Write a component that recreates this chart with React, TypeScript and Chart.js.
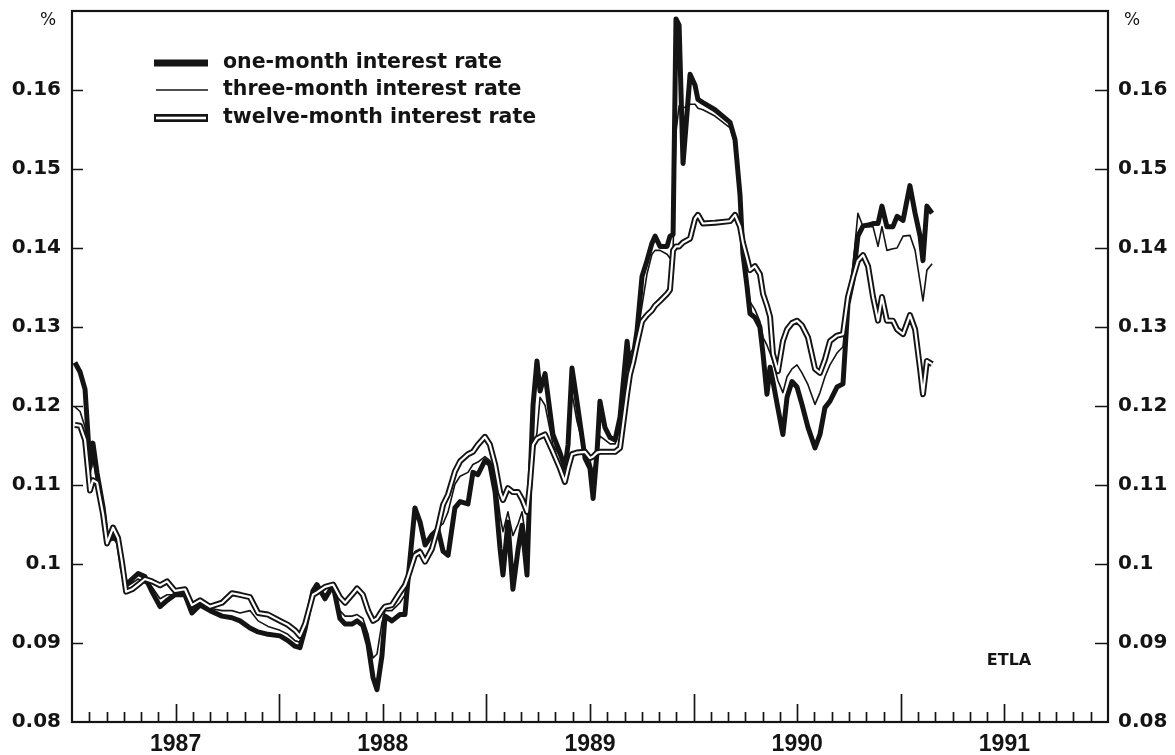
import React, { useEffect, useRef } from 'react';
import { Chart, registerables } from 'chart.js';

Chart.register(...registerables);

// ---- data (decimal years, interest rates as fractions) ----
const dates = [
  1986.514, 1986.539, 1986.563, 1986.587, 1986.601, 1986.621, 1986.650, 1986.669, 1986.698, 1986.722, 1986.741,
  1986.761, 1986.790, 1986.819, 1986.852, 1986.886, 1986.925, 1986.959, 1986.997, 1987.045, 1987.079, 1987.118,
  1987.166, 1987.224, 1987.272, 1987.311, 1987.359, 1987.398, 1987.446, 1987.504, 1987.542, 1987.576, 1987.600,
  1987.625, 1987.663, 1987.682, 1987.721, 1987.760, 1987.793, 1987.818, 1987.851, 1987.876, 1987.904, 1987.929,
  1987.953, 1987.972, 1987.996, 1988.011, 1988.044, 1988.083, 1988.107, 1988.122, 1988.155,
  1988.180, 1988.204, 1988.237, 1988.266, 1988.291, 1988.315, 1988.348, 1988.373, 1988.411, 1988.435, 1988.459,
  1988.493, 1988.517, 1988.542, 1988.566, 1988.580, 1988.604, 1988.628, 1988.653, 1988.672, 1988.696, 1988.710,
  1988.725, 1988.744, 1988.759, 1988.783, 1988.821, 1988.855, 1988.879, 1988.894, 1988.913, 1988.937, 1988.976,
  1989.000, 1989.015, 1989.034,
  1989.048, 1989.072, 1989.097, 1989.121, 1989.145, 1989.179, 1989.193, 1989.208, 1989.227, 1989.251, 1989.275,
  1989.299, 1989.314, 1989.338, 1989.372, 1989.386, 1989.401, 1989.415, 1989.430, 1989.449, 1989.483, 1989.507,
  1989.521, 1989.545, 1989.603, 1989.676, 1989.700, 1989.724, 1989.738, 1989.758, 1989.772, 1989.796, 1989.820,
  1989.835, 1989.854, 1989.869, 1989.883, 1989.907, 1989.931, 1989.951, 1989.975, 1989.999, 1990.023, 1990.052,
  1990.086, 1990.110, 1990.134, 1990.158, 1990.192, 1990.221, 1990.245, 1990.269, 1990.293, 1990.318, 1990.342,
  1990.366, 1990.390, 1990.409, 1990.433, 1990.462, 1990.482, 1990.511, 1990.544, 1990.569, 1990.593, 1990.607,
  1990.626, 1990.651,
];

const oneMonthRate = [
  0.1255, 0.1243, 0.1221, 0.1123, 0.1153, 0.1115, 0.1072, 0.1030, 0.1033, 0.1030, 0.0996,
  0.0973, 0.0981, 0.0988, 0.0984, 0.0965, 0.0946, 0.0954, 0.0961, 0.0961, 0.0938, 0.0948, 0.0941, 0.0934, 0.0932,
  0.0928, 0.0919, 0.0914, 0.0911, 0.0909, 0.0903, 0.0896, 0.0894, 0.0918, 0.0966, 0.0974, 0.0956, 0.0973, 0.0931,
  0.0924, 0.0924, 0.0928, 0.0922, 0.0898, 0.0856, 0.0841, 0.0884, 0.0934, 0.0928, 0.0936, 0.0936, 0.0981, 0.1071,
  0.1053, 0.1024, 0.1037, 0.1044, 0.1016, 0.1011, 0.1071, 0.1079, 0.1076, 0.1116, 0.1113, 0.1131, 0.1126, 0.1091,
  0.1019, 0.0986, 0.1053, 0.0968, 0.1019, 0.1049, 0.0986, 0.1101, 0.1201, 0.1257, 0.1219, 0.1241, 0.1164, 0.1141,
  0.1121, 0.1151, 0.1248, 0.1206, 0.1134, 0.1121, 0.1083, 0.1142,
  0.1206, 0.1173, 0.1160, 0.1157, 0.1186, 0.1282, 0.1244, 0.1262, 0.1295, 0.1364, 0.1384, 0.1406, 0.1415, 0.1402,
  0.1402, 0.1415, 0.1417, 0.1690, 0.1682, 0.1507, 0.1620, 0.1606, 0.1588, 0.1584, 0.1575, 0.1559, 0.1537, 0.1467,
  0.1393, 0.1351, 0.1317, 0.1312, 0.1300, 0.1266, 0.1215, 0.1249, 0.1231, 0.1197, 0.1164, 0.1211, 0.1231, 0.1224,
  0.1202, 0.1173, 0.1147, 0.1164, 0.1198, 0.1206, 0.1224, 0.1228, 0.1329, 0.1359, 0.1415, 0.1428, 0.1429, 0.1431,
  0.1431, 0.1453, 0.1427, 0.1427, 0.1440, 0.1435, 0.1479, 0.1444, 0.1415, 0.1384, 0.1453, 0.1444,
];

const threeMonthRate = [
  0.1199, 0.1193, 0.1173, 0.1113, 0.1133, 0.1103, 0.1068, 0.1031, 0.1035, 0.1023, 0.0998,
  0.0971, 0.0976, 0.0981, 0.0976, 0.0971, 0.0956, 0.0961, 0.0961, 0.0964, 0.0944, 0.0951, 0.0944, 0.0941, 0.0941,
  0.0938, 0.0941, 0.0928, 0.0921, 0.0916, 0.0911, 0.0903, 0.0901, 0.0921, 0.0961, 0.0968, 0.0961, 0.0971, 0.0941,
  0.0934, 0.0934, 0.0936, 0.0931, 0.0911, 0.0881, 0.0886, 0.0926, 0.0941, 0.0941, 0.0951, 0.0961, 0.0981, 0.1016,
  0.1019, 0.1006, 0.1026, 0.1046, 0.1051, 0.1066, 0.1101, 0.1111, 0.1116, 0.1126, 0.1129, 0.1136, 0.1131, 0.1111,
  0.1061, 0.1041, 0.1066, 0.1036, 0.1051, 0.1066, 0.1021, 0.1081, 0.1141, 0.1166, 0.1211, 0.1201, 0.1151, 0.1136,
  0.1131, 0.1141, 0.1216, 0.1181, 0.1141, 0.1131, 0.1116, 0.1141,
  0.1162, 0.1157, 0.1152, 0.1152, 0.1172, 0.1245, 0.1267, 0.1272, 0.1287, 0.1327, 0.1367, 0.1392, 0.1397, 0.1397,
  0.1392, 0.1387, 0.1397, 0.1547, 0.1580, 0.1577, 0.1582, 0.1582, 0.1577, 0.1575, 0.1567, 0.1552, 0.1532, 0.1462,
  0.1397, 0.1362, 0.1332, 0.1322, 0.1307, 0.1287, 0.1277, 0.1267, 0.1257, 0.1232, 0.1217, 0.1237, 0.1247, 0.1252,
  0.1242, 0.1227, 0.1202, 0.1217, 0.1237, 0.1252, 0.1267, 0.1275, 0.1338, 0.1377, 0.1444, 0.1427, 0.1427, 0.1427,
  0.1402, 0.1427, 0.1397, 0.1399, 0.1400, 0.1415, 0.1416, 0.1397, 0.1357, 0.1333, 0.1372, 0.1380,
];

const twelveMonthRate = [
  0.1176, 0.1175, 0.1157, 0.1093, 0.1106, 0.1103, 0.1063, 0.1026, 0.1046, 0.1033, 0.1003,
  0.0965, 0.0968, 0.0974, 0.0981, 0.0978, 0.0973, 0.0978, 0.0966, 0.0968, 0.0948, 0.0954, 0.0946, 0.0951, 0.0963,
  0.0961, 0.0958, 0.0938, 0.0936, 0.0928, 0.0923, 0.0916, 0.0909, 0.0924, 0.0961, 0.0964, 0.0971, 0.0974, 0.0958,
  0.0951, 0.0961, 0.0969, 0.0961, 0.0941, 0.0928, 0.0931, 0.0941, 0.0946, 0.0948, 0.0964, 0.0973, 0.0984, 0.1011,
  0.1015, 0.1003, 0.1019, 0.1046, 0.1075, 0.1088, 0.1117, 0.1130, 0.1139, 0.1142, 0.1151, 0.1161, 0.1151, 0.1126,
  0.1091, 0.1081, 0.1096, 0.1091, 0.1091, 0.1082, 0.1066, 0.1101, 0.1151, 0.1159, 0.1161, 0.1164, 0.1142, 0.1121,
  0.1104, 0.1121, 0.1139, 0.1141, 0.1142, 0.1134, 0.1136, 0.1141,
  0.1142, 0.1142, 0.1142, 0.1142, 0.1147, 0.1215, 0.1240, 0.1255, 0.1279, 0.1307, 0.1315, 0.1321, 0.1327, 0.1333,
  0.1342, 0.1347, 0.1397, 0.1402, 0.1402, 0.1407, 0.1412, 0.1437, 0.1442, 0.1431, 0.1432, 0.1434, 0.1442, 0.1427,
  0.1407, 0.1387, 0.1372, 0.1377, 0.1367, 0.1342, 0.1327, 0.1313, 0.1266, 0.1244, 0.1282, 0.1297, 0.1305, 0.1308,
  0.1302, 0.1287, 0.1247, 0.1242, 0.1259, 0.1282, 0.1289, 0.1291, 0.1338, 0.1362, 0.1384, 0.1391, 0.1377, 0.1338,
  0.1308, 0.1338, 0.1308, 0.1308, 0.1297, 0.1291, 0.1315, 0.1297, 0.1247, 0.1215, 0.1257, 0.1253,
];

const seriesLabels = [
  'one-month interest rate',
  'three-month interest rate',
  'twelve-month interest rate',
];

const yearTicks = [1987, 1988, 1989, 1990, 1991];
const yearTickLabels = ['1987', '1988', '1989', '1990', '1991'];
const rateTicks = [0.08, 0.09, 0.1, 0.11, 0.12, 0.13, 0.14, 0.15, 0.16];
const rateTickLabels = ['0.08', '0.09', '0.1', '0.11', '0.12', '0.13', '0.14', '0.15', '0.16'];
const unitLabel = '%';
const sourceLabel = 'ETLA';

const X_MIN = 1986.5;
const X_MAX = 1991.5;
const Y_MIN = 0.08;
const Y_MAX = 0.17;

// ---- styling / layout ----
const INK = '#141414';
const W = 1175;
const H = 755;
const AREA_LEFT = 72;
const AREA_RIGHT = 1108;
const AREA_TOP = 11;
const AREA_BOTTOM = 722;

const toPoints = (vals: number[]) => dates.map((d, i) => ({ x: d, y: vals[i] }));

const framePlugin = {
  id: 'paperFrame',
  afterDatasetsDraw(chart: any) {
    const { ctx, chartArea: a, scales } = chart;
    const xs = scales.x;
    const ys = scales.y;
    ctx.save();
    ctx.strokeStyle = INK;
    ctx.lineWidth = 2.2;
    ctx.strokeRect(a.left, a.top, a.right - a.left, a.bottom - a.top);

    // monthly ticks pointing up from the bottom axis
    ctx.lineWidth = 1.7;
    for (let yr = Math.floor(X_MIN); yr <= Math.ceil(X_MAX); yr++) {
      for (let m = 0; m < 12; m++) {
        const v = yr + m / 12;
        if (v <= X_MIN + 1e-6 || v >= X_MAX - 1e-6) continue;
        const len = m === 0 ? 18 : m === 6 ? 28 : 10;
        const px = Math.round(xs.getPixelForValue(v)) + 0.5;
        ctx.beginPath();
        ctx.moveTo(px, a.bottom);
        ctx.lineTo(px, a.bottom - len);
        ctx.stroke();
      }
    }
    // y ticks pointing inward on both sides
    for (const v of rateTicks) {
      if (v <= Y_MIN) continue;
      const py = Math.round(ys.getPixelForValue(v)) + 0.5;
      ctx.beginPath();
      ctx.moveTo(a.left, py);
      ctx.lineTo(a.left + 11, py);
      ctx.moveTo(a.right, py);
      ctx.lineTo(a.right - 13, py);
      ctx.stroke();
    }
    ctx.restore();
  },
  afterDraw(chart: any) {
    const { ctx, chartArea: a } = chart;
    ctx.save();
    // legend
    const sx0 = 154;
    const sx1 = 208;
    const tx = 223;
    const rows = [63, 90, 118];
    ctx.fillStyle = INK;
    ctx.fillRect(sx0, rows[0] - 3.5, sx1 - sx0, 7);
    ctx.strokeStyle = INK;
    ctx.lineWidth = 1.6;
    ctx.beginPath();
    ctx.moveTo(sx0 + 2, rows[1]);
    ctx.lineTo(sx1, rows[1]);
    ctx.stroke();
    ctx.fillRect(sx0, rows[2] - 4, sx1 - sx0, 8);
    ctx.fillStyle = '#fff';
    ctx.fillRect(sx0 + 2, rows[2] - 1.3, sx1 - sx0 - 4, 2.6);

    ctx.fillStyle = INK;
    ctx.font = 'bold 20.5px "DejaVu Sans", sans-serif';
    ctx.textBaseline = 'middle';
    ctx.textAlign = 'left';
    seriesLabels.forEach((lab, i) => ctx.fillText(lab, tx, rows[i]));

    // unit labels
    ctx.font = '17px "DejaVu Sans", sans-serif';
    ctx.textAlign = 'center';
    ctx.fillText(unitLabel, a.left - 24, a.top + 10);
    ctx.fillText(unitLabel, a.right + 24, a.top + 10);

    // source
    ctx.font = 'bold 16px "DejaVu Sans", sans-serif';
    ctx.fillText(sourceLabel, 1009, 661);
    ctx.restore();
  },
};

const yTickCallback = (v: any) => {
  const i = rateTicks.findIndex((t) => Math.abs(t - Number(v)) < 1e-9);
  return i >= 0 ? rateTickLabels[i] : '';
};

export default function App() {
  const canvasRef = useRef<HTMLCanvasElement | null>(null);

  useEffect(() => {
    const canvas = canvasRef.current;
    if (!canvas) return;
    const chart = new Chart(canvas, {
      type: 'line',
      data: {
        datasets: [
          {
            label: seriesLabels[2] + ' (inner)',
            data: toPoints(twelveMonthRate),
            borderColor: '#ffffff',
            borderWidth: 2.2,
            pointRadius: 0,
            tension: 0,
            borderJoinStyle: 'round',
            order: 0,
          },
          {
            label: seriesLabels[2],
            data: toPoints(twelveMonthRate),
            borderColor: INK,
            borderWidth: 6,
            pointRadius: 0,
            tension: 0,
            borderJoinStyle: 'round',
            order: 1,
          },
          {
            label: seriesLabels[1],
            data: toPoints(threeMonthRate),
            borderColor: INK,
            borderWidth: 1.6,
            pointRadius: 0,
            tension: 0,
            borderJoinStyle: 'round',
            order: 2,
          },
          {
            label: seriesLabels[0],
            data: toPoints(oneMonthRate),
            borderColor: INK,
            borderWidth: 5,
            pointRadius: 0,
            tension: 0,
            borderJoinStyle: 'round',
            order: 3,
          },
        ],
      },
      options: {
        responsive: false,
        animation: false,
        events: [],
        layout: { padding: { top: AREA_TOP, left: 0, right: 0, bottom: 0 } },
        plugins: {
          legend: { display: false },
          tooltip: { enabled: false },
          title: { display: false },
        },
        scales: {
          x: {
            type: 'linear',
            min: X_MIN,
            max: X_MAX,
            grid: { display: false, drawTicks: false },
            border: { display: false },
            afterBuildTicks: (s: any) => {
              s.ticks = yearTicks.map((v) => ({ value: v }));
            },
            afterFit: (s: any) => {
              s.height = H - AREA_BOTTOM;
              s.paddingLeft = 0;
              s.paddingRight = 0;
            },
            ticks: {
              autoSkip: false,
              maxRotation: 0,
              padding: 9,
              color: INK,
              font: { family: '"Liberation Sans", Arial, sans-serif', size: 23, weight: 'bold' },
              callback: (v: any) => {
                const i = yearTicks.indexOf(Number(v));
                return i >= 0 ? yearTickLabels[i] : '';
              },
            },
          },
          y: {
            type: 'linear',
            position: 'left',
            min: Y_MIN,
            max: Y_MAX,
            grid: { display: false, drawTicks: false },
            border: { display: false },
            afterBuildTicks: (s: any) => {
              s.ticks = rateTicks.map((v) => ({ value: v }));
            },
            afterFit: (s: any) => {
              s.width = AREA_LEFT;
              s.paddingTop = 0;
              s.paddingBottom = 0;
            },
            ticks: {
              padding: 11,
              color: INK,
              font: { family: '"DejaVu Sans", sans-serif', size: 20, weight: 'bold' },
              callback: yTickCallback,
            },
          },
          y2: {
            type: 'linear',
            position: 'right',
            min: Y_MIN,
            max: Y_MAX,
            grid: { display: false, drawTicks: false },
            border: { display: false },
            afterBuildTicks: (s: any) => {
              s.ticks = rateTicks.map((v) => ({ value: v }));
            },
            afterFit: (s: any) => {
              s.width = W - AREA_RIGHT;
              s.paddingTop = 0;
              s.paddingBottom = 0;
            },
            ticks: {
              padding: 10,
              color: INK,
              font: { family: '"DejaVu Sans", sans-serif', size: 20, weight: 'bold' },
              callback: yTickCallback,
            },
          },
        },
      },
      plugins: [framePlugin],
    } as any);
    return () => chart.destroy();
  }, []);

  return (
    <div style={{ position: 'fixed', left: 0, top: 0, width: W, height: H, background: '#fff' }}>
      <canvas ref={canvasRef} width={W} height={H} style={{ display: 'block' }} />
    </div>
  );
}
